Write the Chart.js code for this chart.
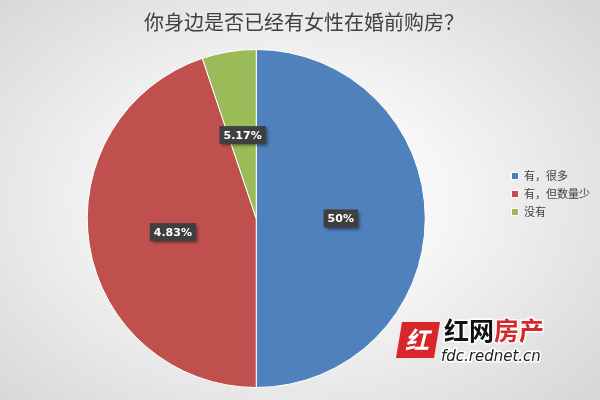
<!DOCTYPE html>
<html>
<head>
<meta charset="utf-8">
<script src="https://cdn.jsdelivr.net/npm/chart.js@4"></script>
<style>
  html, body { margin: 0; padding: 0; }
  body {
    width: 600px; height: 400px; overflow: hidden;
    background: radial-gradient(ellipse 75% 80% at 48% 50%, #ffffff 0%, #f6f6f6 35%, #d2d2d2 100%);
  }
  #wrap { position: relative; width: 600px; height: 400px; }
</style>
</head>
<body>
<div id="wrap"><canvas id="myChart" width="600" height="400"></canvas></div>
<script>
var chartTitle = "你身边是否已经有女性在婚前购房？";
var categories = ["有，很多", "有，但数量少", "没有"];
var shares = [50, 44.83, 5.17];
var shareLabels = ["50%", "4.83%", "5.17%"];
var sliceColors = ["#4f81bd", "#c0504d", "#9bbb59"];

// dark boxed labels in the middle of each slice
var boxLabels = {
  id: "boxLabels",
  afterDatasetsDraw: function (chart) {
    var ctx = chart.ctx;
    var meta = chart.getDatasetMeta(0);
    ctx.save();
    ctx.font = "bold 11px 'DejaVu Sans', sans-serif";
    meta.data.forEach(function (arc, i) {
      var mid = (arc.startAngle + arc.endAngle) / 2;
      var r = arc.outerRadius * 0.5;
      var x = arc.x + Math.cos(mid) * r;
      var y = arc.y + Math.sin(mid) * r;
      var txt = shareLabels[i];
      var w = ctx.measureText(txt).width + 8;
      var h = 18;
      ctx.shadowColor = "rgba(0,0,0,0.45)";
      ctx.shadowBlur = 3;
      ctx.shadowOffsetX = 2;
      ctx.shadowOffsetY = 2;
      ctx.fillStyle = "#3f3f3f";
      ctx.fillRect(x - w / 2, y - h / 2, w, h);
      ctx.shadowColor = "transparent";
      ctx.fillStyle = "#ffffff";
      ctx.textAlign = "center";
      ctx.textBaseline = "middle";
      ctx.fillText(txt, x, y + 1);
    });
    ctx.restore();
  }
};

// site watermark in the lower right corner
var watermark = {
  id: "watermark",
  afterDraw: function (chart) {
    var ctx = chart.ctx;
    ctx.save();
    ctx.fillStyle = "#d9262b";
    ctx.beginPath();
    ctx.moveTo(402, 322);
    ctx.lineTo(440, 322);
    ctx.lineTo(434, 358);
    ctx.lineTo(396, 358);
    ctx.closePath();
    ctx.fill();
    ctx.fillStyle = "#ffffff";
    ctx.font = "italic bold 24px 'Noto Sans CJK SC'";
    ctx.textBaseline = "middle";
    ctx.fillText("红", 405, 340);
    ctx.font = "bold 25px 'Noto Sans CJK SC'";
    ctx.textBaseline = "alphabetic";
    ctx.lineWidth = 3;
    ctx.strokeStyle = "#ffffff";
    ctx.strokeText("红网", 444, 340);
    ctx.fillStyle = "#111111";
    ctx.fillText("红网", 444, 340);
    ctx.strokeText("房产", 494, 340);
    ctx.fillStyle = "#d9262b";
    ctx.fillText("房产", 494, 340);
    ctx.font = "italic 15px 'DejaVu Sans', sans-serif";
    ctx.strokeText("fdc.rednet.cn", 441, 361);
    ctx.fillStyle = "#222222";
    ctx.fillText("fdc.rednet.cn", 441, 361);
    ctx.restore();
  }
};

var ctx = document.getElementById("myChart").getContext("2d");
var chart = new Chart(ctx, {
  type: "pie",
  data: {
    labels: categories,
    datasets: [
      {
        data: shares,
        backgroundColor: sliceColors,
        borderColor: "#ffffff",
        borderWidth: 1
      }
    ]
  },
  options: {
    responsive: false,
    animation: false,
    layout: { padding: { left: 8, right: 0, top: 0, bottom: 12 } },
    plugins: {
      title: {
        display: true,
        text: chartTitle,
        color: "#404040",
        font: { family: "'Noto Sans CJK SC'", size: 20, weight: "normal" },
        padding: { top: 10, bottom: 15 }
      },
      legend: {
        position: "right",
        labels: {
          boxWidth: 7,
          boxHeight: 7,
          padding: 7,
          color: "#404040",
          font: { family: "'Noto Sans CJK SC'", size: 11 }
        }
      },
      tooltip: { enabled: false }
    }
  },
  plugins: [boxLabels, watermark]
});
</script>
</body>
</html>
